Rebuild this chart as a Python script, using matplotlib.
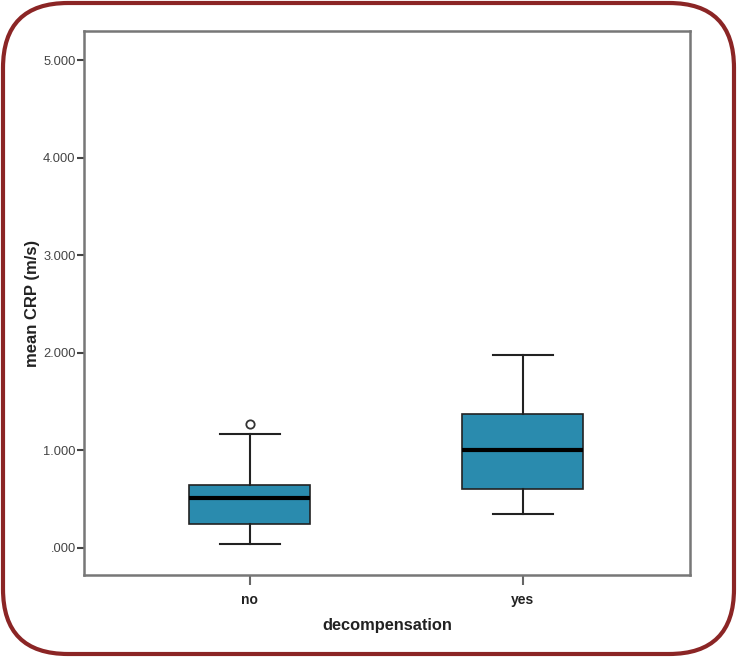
import matplotlib
matplotlib.use('Agg')
import matplotlib.pyplot as plt
from matplotlib.patches import FancyBboxPatch
from matplotlib.transforms import IdentityTransform
from matplotlib.ticker import FuncFormatter

plt.rcParams['font.family'] = ['Liberation Sans', 'DejaVu Sans']

# valores
grupos = ['no', 'yes']
q1 = [0.24, 0.60]
mediana = [0.505, 1.007]
q3 = [0.648, 1.376]
bigote_inf = [0.043, 0.344]
bigote_sup = [1.167, 1.974]
atipicos = [[1.27], []]
y_ticks = [0, 1, 2, 3, 4, 5]

stats = []
for i, g in enumerate(grupos):
    stats.append({'label': g, 'q1': q1[i], 'med': mediana[i], 'q3': q3[i],
                  'whislo': bigote_inf[i], 'whishi': bigote_sup[i],
                  'fliers': atipicos[i]})

fig = plt.figure(figsize=(7.37, 6.57), dpi=100)
ax = fig.add_axes([0.114, 0.1248, 0.822, 0.828])

ax.bxp(stats, positions=[0, 1], widths=0.443, patch_artist=True,
       boxprops=dict(facecolor='#2a8bae', edgecolor='#222222', linewidth=1.2),
       medianprops=dict(color='black', linewidth=3),
       whiskerprops=dict(color='#222222', linewidth=1.5),
       capprops=dict(color='#222222', linewidth=1.5),
       capwidths=0.22,
       flierprops=dict(marker='o', markerfacecolor='white', markeredgecolor='#333333',
                       markersize=6, markeredgewidth=1.3))

ax.set_xlim(-0.608, 1.612)
ax.set_ylim(-0.28, 5.30)
ax.set_yticks(y_ticks)
ax.yaxis.set_major_formatter(FuncFormatter(lambda v, p: '.000' if v == 0 else f'{int(v)}.000'))
ax.set_xticks([0, 1])
ax.set_xticklabels(grupos, fontweight='bold', fontsize=10, color='#222222')

for s in ax.spines.values():
    s.set_color('#777777')
    s.set_linewidth(1.8)
ax.tick_params(axis='y', length=5, width=1.5, color='#444444', labelsize=9.3,
               labelcolor='#444444', pad=1)
ax.tick_params(axis='x', length=7, width=1.5, color='#666666', pad=6)

ax.set_ylabel('mean CRP (m/s)', fontweight='bold', fontsize=12, color='#222222', labelpad=2)
ax.set_xlabel('decompensation', fontweight='bold', fontsize=11.8, color='#222222', labelpad=8)

# marco rojo redondeado
marco = FancyBboxPatch((3, 3), 731, 651, boxstyle='round,pad=0,rounding_size=65',
                       transform=IdentityTransform(), facecolor='none',
                       edgecolor='#8b2525', linewidth=3)
fig.patches.append(marco)

fig.savefig('out.png', dpi=100)
